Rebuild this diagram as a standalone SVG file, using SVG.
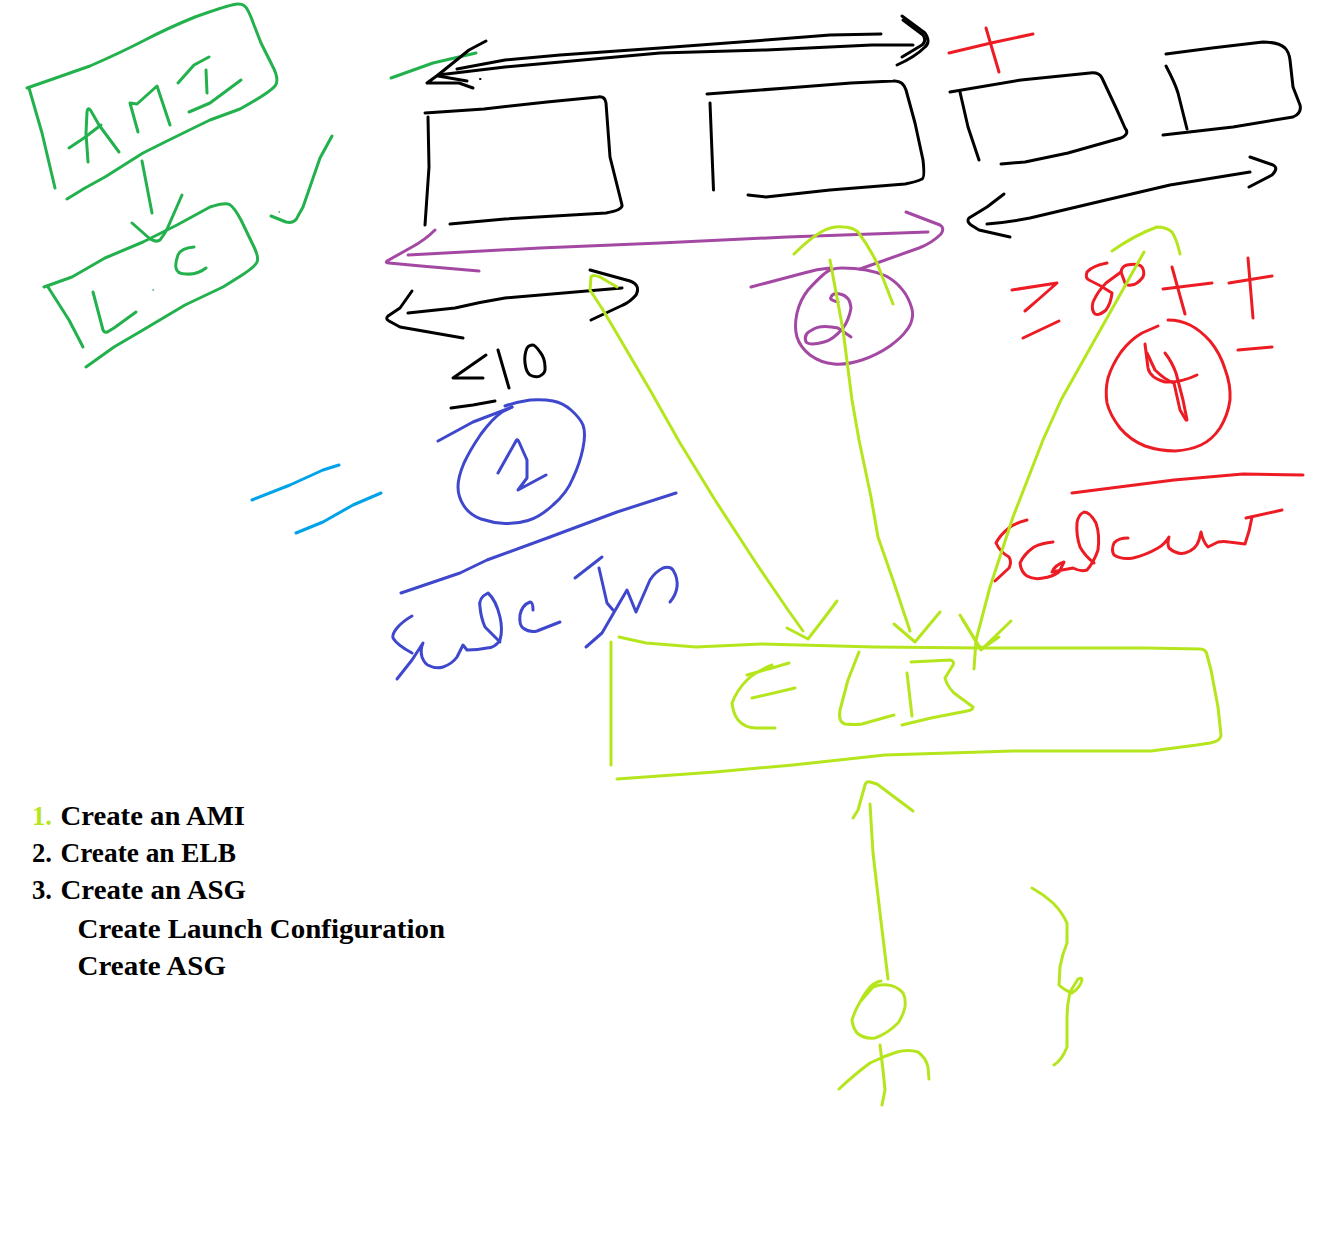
<svg xmlns="http://www.w3.org/2000/svg" width="1326" height="1246" viewBox="0 0 1326 1246">
<style>
path,polyline{fill:none;stroke-width:3;stroke-linecap:round;stroke-linejoin:round}
.k *{stroke:#000}.g *{stroke:#22b14c}.p *{stroke:#a349a4}.b *{stroke:#3f48cc}.c *{stroke:#00a2e8}.y *{stroke:#b5e61d}.r *{stroke:#ed1c24}
text{font-family:"Liberation Serif","Noto Serif",serif;font-weight:700;font-size:28px;fill:#000}
</style>
<rect width="1326" height="1246" fill="#fff"/>
<g id="ami-lc" class="g">
<path d="M27,88 L50,80 L90,66 Q122,52 145,40 Q168,28 195,17 Q223,7 232,5 Q240,3 244,5.500 Q248,8 254,25 L261,43 L272,65 Q280,80 275,86 Q269,93 240,109 L210,120 Q175,137 159,145 L143,153 L105,177 L85,188 L67,199"/>
<polyline points="29,88 42,133 55,188"/>
<path d="M88,162 L86,133 L87,112 Q88,106 91,111 L99,125 L119,152"/>
<polyline points="69,148 84,138 101,125"/>
<polyline points="138,132 130,103 137,104 157,86 170,125"/>
<polyline points="178,83 194,65 209,57"/>
<polyline points="206,70 207,93"/>
<polyline points="189,112 210,103 241,80"/>
<polyline points="142,161 152,213"/>
<path d="M132,223 L149,238 Q156,243 160,240 Q165,234 168,227 L182,195"/>
<path d="M44,287 L72,277 L105,258 L143,242 L177,225 L210,207 Q225,202 229.500,204.500 Q234,207 241,220 L254,247 Q259,257 257,262 Q255,267 239,277 L223,287 L185,305 L143,330 L114,347 L86,367"/>
<polyline points="48,287 69,320 83,347"/>
<path d="M93,292 L103,330 Q105,334 109,331 L114,328 L136,312"/>
<path d="M194,247 Q181,248 178,255 Q175,263 176,268 Q177,274 186,274 Q197,275 206,268"/>
<path d="M271,216 L286,222 Q295,224 298,216 L303,207 L320,158 L332,136"/>
<polyline points="391,78 433,63 476,53"/>
<path d="M153,290h.5M279,212h.5" style="stroke-width:1.400"/>
</g>
<g id="top-arrow" class="k">
<polyline points="486,41 469,50 438,75 427,83 459,83 473,88"/>
<polyline points="438,76 467,81"/>
<polyline points="457,69 505,60 560,55 660,48 766,40 830,35 881,34"/>
<polyline points="438,75 505,67 660,53 766,50 872,45 913,45"/>
<path d="M902,16 L925,33 Q931,42 925,47 Q915,57 897,65"/>
<path d="M903,20 L923,35 Q927,41 922,45 L902,57"/>
<path d="M480,79h.5" style="stroke-width:2"/>
</g>
<g id="box-1" class="k">
<path d="M425,113 L484,109 L547,102 L598,97 Q605,96 606,103 L610,157 L622,205 Q623,210 606,213 L505,219 L450,224"/>
<polyline points="428,117 429,167 425,225"/>
</g>
<g id="box-2" class="k">
<path d="M707,94 L787,88 L851,83 L893,81 Q903,80 906,90 L915,123 L923,160 Q925,178 922,179 Q916,182 905,184 L830,190 L766,197 L748,195"/>
<polyline points="710,103 713.500,190"/>
</g>
<g id="box-3" class="k">
<path d="M950,92 L1021,80 L1090,73 Q1099,72 1102,78 L1117,110 L1125,128 Q1130,134 1121,138 L1068,153 L1025,162 L1001,164"/>
<polyline points="960,92 968,127 979,160"/>
</g>
<g id="box-4" class="k">
<path d="M1166,54 L1212,48 L1263,42 Q1278,42 1285,48 Q1289,52 1290,60 L1293,87 L1300,105 Q1302,113 1293,117 L1233,127 L1163,135"/>
<path d="M1166,66 Q1175,83 1178,93 L1187,129"/>
</g>
<g id="right-arrow" class="k">
<path d="M987,224 Q1010,222 1030,218 L1106,200 L1170,185 L1250,172"/>
<path d="M1250,157 L1273,165 Q1279,168 1272,175 L1249,187"/>
<path d="M1004,194 L987,207 L969,218 Q966,221 971,225 L979,230 L1010,237"/>
</g>
<g id="left-arrow" class="k">
<path d="M408,313 L455,308 Q480,302 505,298 L622,288"/>
<path d="M590,270 L630,281 Q641,285 636,295 Q630,302 623,305 L591,320"/>
<path d="M412,291 L400,308 L388,316 Q385,319 389,321 L400,327 L463,338"/>
<polyline points="486,355 453,378 483,378"/>
<polyline points="498,350 509,388"/>
<path d="M527,348 Q524,355 525,363 Q526,372 530,375 Q536,378 540,376 Q546,373 545,367 Q545,358 540,352 Q535,345 533,345 Q529,345 527,348"/>
<polyline points="451,408 473,405 495,401"/>
</g>
<g id="red-top" class="r">
<polyline points="949,53 991,43 1033,34"/>
<polyline points="986,28 991,45 999,72"/>
</g>
<g id="purple" class="p">
<polyline points="408,255 540,248 660,243 787,237 928,232"/>
<path d="M435,230 Q425,240 412,247 L387,261 Q385,263 389,263 L421,266 L479,271"/>
<path d="M906,212 L940,225 Q945,228 941,234 Q932,243 919,248 L860,269"/>
<path d="M751,287 L804,273 Q817,269 830,268"/>
<path d="M842,268 Q855,268 866,270 Q877,272 886,276 Q895,281 900,287 Q906,293 910,303 Q914,313 912,319 Q911,325 906,331 Q902,337 890,346 Q877,355 862,360 Q847,365 834,364 Q821,363 810,355 Q800,347 797,337 Q794,327 797,313 Q800,300 808,290 Q817,280 824,274 Q830,268 842,268"/>
<path d="M838,302 Q829,300 831,297 Q833,292 840,294 Q850,296 851,308 Q849,320 843,328 Q833,340 824,342 Q810,346 806,342 Q803,334 812,330 Q820,324 838,328 L851,337"/>
</g>
<g id="blue" class="b">
<polyline points="438,441 473,422 512,407"/>
<path d="M512,407 L502,412 Q493,418 481,434 Q470,450 464,463 Q458,477 458,487 Q458,497 464,506 Q470,515 481,519 Q493,523 505,523.500 Q517,524 528,520.500 Q540,517 553,505 Q567,493 573,478 Q580,463 583,448 Q586,433 583,425 Q580,418 571,410 Q563,403 553,401 Q543,399 530,400 Q517,402 505,406"/>
<path d="M498,473 L516,441 Q517,438 519,442 L527,460 L527,478 L518,490 L546,475"/>
<polyline points="401,593 460,573 487,560 550,537 617,512 676,493"/>
<path d="M412,616 Q403,621 397,628 Q392,634 393,638 Q397,645 412,653"/>
<path d="M397,679 L412,660 L423,643 Q420,650 422,657 Q425,665 430,666 Q436,669 443,667 Q452,664 457,657 L463,645 L467,650 Q478,650 487,648 Q495,648 500,640 Q503,630 500,617 Q496,600 488,593 Q478,598 480,607 Q481,618 485,627 L500,642"/>
<path d="M533,610 Q533,602 530,602 Q522,605 520,615 Q519,625 523,628 Q530,633 537,631 L560,622"/>
<polyline points="575,578 602,557"/>
<polyline points="599,568 607,603 613,610"/>
<path d="M586,647 L602,633 L627,590 L636,612 L650,580 Q655,572 663,568 Q670,566 673,570 Q678,578 677,587 Q676,595 670,602"/>
</g>
<g id="cyan" class="c">
<polyline points="252,500 290,485 323,470 339,465"/>
<polyline points="296,533 323,522 353,505 381,493"/>
</g>
<g id="red-right" class="r">
<polyline points="1012,290 1057,283 1040,298 1025,311"/>
<polyline points="1023,338 1059,321"/>
<path d="M1107,263 Q1092,266 1087,272 Q1085,278 1089,280 Q1100,285 1112,293 Q1111,303 1106,310 Q1099,316 1095,314 Q1091,310 1093,302 Q1098,291 1106,283 L1121,272"/>
<path d="M1125,283 L1121,272 Q1122,266 1127,265 Q1138,263 1142,267 Q1145,272 1143,277 Q1137,285 1131,285 Q1127,286 1125,283"/>
<polyline points="1163,289 1212,283"/>
<polyline points="1172,267 1185,314"/>
<polyline points="1229,283 1272,276"/>
<polyline points="1248,258 1253,318"/>
<polyline points="1238,350 1272,347"/>
<path d="M1168,320 Q1180,320 1190,325 Q1200,330 1210,341 Q1220,353 1225,369 Q1231,385 1230,400 Q1228,415 1220,428 Q1212,440 1201,445 Q1190,450 1175,451 Q1160,451 1145,446 Q1130,440 1120,428 Q1110,415 1107,403 Q1105,390 1108,378 Q1112,365 1121,352 Q1130,340 1142,333 L1158,326"/>
<path d="M1145,344 L1148,368 Q1150,378 1165,382 Q1180,383 1197,375"/>
<path d="M1165,353 Q1172,362 1176,373 L1183,400 L1187,420"/>
<path d="M1147,353 L1155,370 Q1165,380 1174,383 L1180,410 L1186,420"/>
<polyline points="1072,493 1174,480 1243,474 1303,475"/>
<path d="M1027,520 Q1015,523 1009,528 Q1000,535 996,543 Q1000,552 1009,557 Q1012,562 1009,568 L995,581"/>
<path d="M1053,542 Q1042,543 1034,547 Q1024,554 1020,563 Q1021,572 1027,576 Q1034,580 1043,578 Q1052,577 1059,572 L1064,562 Q1055,565 1052,572 Q1062,570 1073,568 Q1081,572 1087,570 Q1094,562 1098,550 Q1100,535 1096,523 Q1090,512 1084,512 Q1078,515 1077,523 Q1076,535 1080,547 Q1085,556 1094,563"/>
<path d="M1128,538 Q1118,538 1114,543 Q1111,550 1114,555 Q1122,560 1133,558 Q1146,555 1158,548 Q1165,544 1169,537 Q1167,544 1169,548 Q1177,555 1185,553 Q1196,550 1199,540 L1201,532 Q1203,542 1208,547 L1218,542 Q1224,541 1229,542 L1245,544 Q1250,530 1252,517"/>
<polyline points="1246,518 1282,510"/>
</g>
<g id="elb" class="y">
<path d="M619,637 L646,643 L696,647 L761,644 L875,647 L981,648 L1146,648 L1200,649 Q1206,649 1207,655 L1211,670 L1218,707 L1221,735 Q1221,741 1210,743 L1197,745 L1151,751 L1013,751 L885,755 L793,765 L715,772 L617,779"/>
<polyline points="611,642 611,765"/>
<polyline points="747,675 772,668 789,663"/>
<path d="M772,665 Q755,672 747,680 Q737,690 732,703 Q733,713 738,720 Q745,728 756,728 L775,728"/>
<polyline points="752,698 795,688"/>
<path d="M859,652 L848,680 L840,710 Q838,722 845,724 Q855,725 862,724 L894,715"/>
<polyline points="907,673 912,716"/>
<path d="M911,662 L950,660 Q955,661 953,665 L945,678 Q947,686 954,693 L973,707 Q973,710 967,711 L931,718 L902,725"/>
</g>
<g id="connectors" class="y">
<path d="M617,287 L600,277 Q592,274 591,277 L590,290 L603,310 L650,390 L680,443 L715,500 L756,563 L788,610 L803,631"/>
<polyline points="787,628 808,639 825,617 837,601"/>
<polyline points="830,260 843,330 852,400 859,440 871,497 878,537 894,583 910,631"/>
<polyline points="894,624 915,642 940,612"/>
<path d="M794,254 Q808,240 821,232 Q832,226 843,227 Q852,227 858,232 Q868,245 877,263 L893,304"/>
<polyline points="1144,252 1061,400 1043,440 1013,517 990,587 976,640 974,669"/>
<path d="M1112,251 Q1135,235 1157,227 Q1166,227 1172,232 Q1177,240 1180,254"/>
<polyline points="960,615 981,650 1011,621"/>
<polyline points="963,620 979,646 983,648 999,637"/>
<polyline points="870,804 873,853 880,913 888,979"/>
<path d="M853,818 L858,810 L865,785 Q866,781 870,782 L877,784 L913,811"/>
</g>
<g id="user" class="y">
<path d="M881,981 Q875,982 870,987 Q864,994 860,1002 Q855,1010 852,1020 Q853,1028 857,1033 Q864,1039 875,1038 Q887,1034 898,1023 Q903,1016 905,1007 Q906,998 903,993 Q897,986 888,985 Q880,984 873,987 L860,1002"/>
<polyline points="880,1045 883,1070 885,1090 882,1105"/>
<path d="M839,1089 Q855,1074 870,1063 Q884,1056 897,1052 Q908,1049 918,1052 Q926,1058 928,1067 L929,1079"/>
<path d="M1032,888 Q1043,894 1053,903 Q1062,912 1067,923 L1067,943 Q1062,955 1060,967 L1059,985 Q1064,990 1072,993 Q1080,988 1082,980 Q1082,977 1078,979 L1070,992 Q1067,1005 1067,1017 L1067,1047 Q1062,1060 1054,1065"/>
</g>
<g id="steps">
<text x="32" y="825" textLength="20" lengthAdjust="spacingAndGlyphs" style="fill:#b5e61d">1.</text>
<text x="60.500" y="825" textLength="184.500" lengthAdjust="spacingAndGlyphs">Create an AMI</text>
<text x="32" y="862" textLength="20" lengthAdjust="spacingAndGlyphs">2.</text>
<text x="60.500" y="862" textLength="175.500" lengthAdjust="spacingAndGlyphs">Create an ELB</text>
<text x="32" y="899" textLength="20" lengthAdjust="spacingAndGlyphs">3.</text>
<text x="60.500" y="899" textLength="185.500" lengthAdjust="spacingAndGlyphs">Create an ASG</text>
<text x="77.500" y="938" textLength="367.500" lengthAdjust="spacingAndGlyphs">Create Launch Configuration</text>
<text x="77.500" y="975" textLength="148.500" lengthAdjust="spacingAndGlyphs">Create ASG</text>
</g>
</svg>
